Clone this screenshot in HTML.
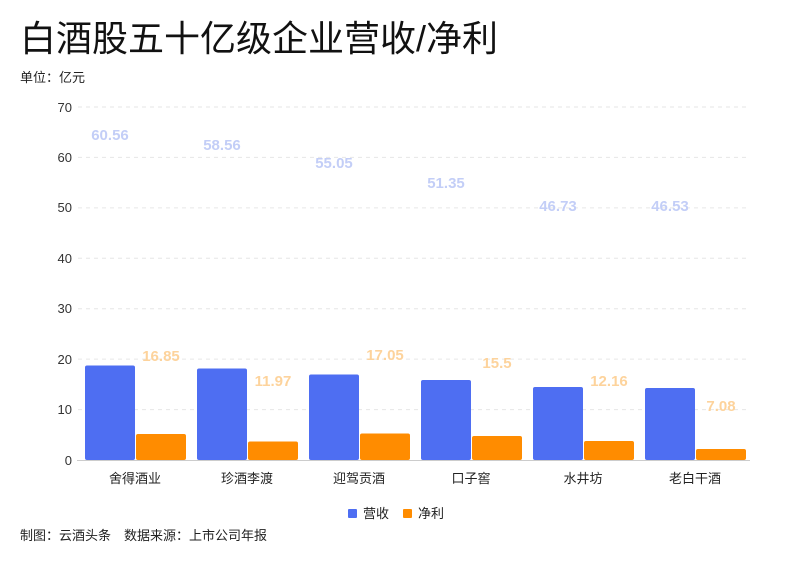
<!DOCTYPE html>
<html><head><meta charset="utf-8"><style>
body{margin:0;background:#fff;width:800px;height:560px;overflow:hidden;font-family:"Liberation Sans","Noto Sans CJK SC",sans-serif}
</style></head><body>
<svg width="800" height="560" xmlns="http://www.w3.org/2000/svg" font-family="Liberation Sans, Noto Sans CJK SC, sans-serif">
<text x="20" y="51" font-size="36" fill="#111">白酒股五十亿级企业营收/净利</text>
<text x="20" y="82" font-size="13" fill="#222">单位：亿元</text>
<g stroke="#e6e6e6" stroke-dasharray="4,4">
<line x1="78" x2="750" y1="107" y2="107"/><line x1="78" x2="750" y1="157.4" y2="157.4"/>
<line x1="78" x2="750" y1="207.9" y2="207.9"/><line x1="78" x2="750" y1="258.3" y2="258.3"/>
<line x1="78" x2="750" y1="308.7" y2="308.7"/><line x1="78" x2="750" y1="359.1" y2="359.1"/>
<line x1="78" x2="750" y1="409.6" y2="409.6"/></g>
<g font-size="13" fill="#333" text-anchor="end">
<text x="72" y="112">70</text><text x="72" y="162">60</text><text x="72" y="212">50</text>
<text x="72" y="263">40</text><text x="72" y="313">30</text><text x="72" y="364">20</text>
<text x="72" y="414">10</text><text x="72" y="465">0</text></g>
<g fill="#4e6ef2">
<rect x="85" y="365.5" width="50" height="94.5" rx="2"/><rect x="197" y="368.5" width="50" height="91.5" rx="2"/>
<rect x="309" y="374.5" width="50" height="85.5" rx="2"/><rect x="421" y="380" width="50" height="80" rx="2"/>
<rect x="533" y="387" width="50" height="73" rx="2"/><rect x="645" y="388" width="50" height="72" rx="2"/></g>
<g fill="#ff8c00">
<rect x="136" y="434" width="50" height="26" rx="2"/><rect x="248" y="441.5" width="50" height="18.5" rx="2"/>
<rect x="360" y="433.5" width="50" height="26.5" rx="2"/><rect x="472" y="436" width="50" height="24" rx="2"/>
<rect x="584" y="441" width="50" height="19" rx="2"/><rect x="696" y="449" width="50" height="11" rx="2"/></g>
<line x1="77" x2="750" y1="460.5" y2="460.5" stroke="#ccc"/>
<g font-size="15" font-weight="bold" fill="#c3cef7" text-anchor="middle">
<text x="110" y="140">60.56</text><text x="222" y="150">58.56</text><text x="334" y="168">55.05</text>
<text x="446" y="188">51.35</text><text x="558" y="211">46.73</text><text x="670" y="211">46.53</text></g>
<g font-size="15" font-weight="bold" fill="#fdd39c" text-anchor="middle">
<text x="161" y="361">16.85</text><text x="273" y="386">11.97</text><text x="385" y="360">17.05</text>
<text x="497" y="368">15.5</text><text x="609" y="386">12.16</text><text x="721" y="411">7.08</text></g>
<g font-size="13" fill="#222" text-anchor="middle">
<text x="135" y="483">舍得酒业</text><text x="247" y="483">珍酒李渡</text><text x="359" y="483">迎驾贡酒</text>
<text x="471" y="483">口子窖</text><text x="583" y="483">水井坊</text><text x="695" y="483">老白干酒</text></g>
<rect x="348" y="509" width="9" height="9" rx="1" fill="#4e6ef2"/><text x="363" y="518" font-size="13" fill="#222">营收</text>
<rect x="403" y="509" width="9" height="9" rx="1" fill="#ff8c00"/><text x="418" y="518" font-size="13" fill="#222">净利</text>
<text x="20" y="540" font-size="13" fill="#222">制图：云酒头条　数据来源：上市公司年报</text>
</svg>
</body></html>
